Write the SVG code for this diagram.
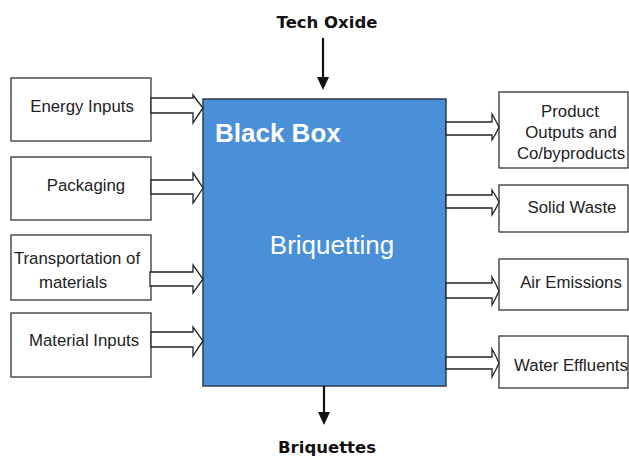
<svg xmlns="http://www.w3.org/2000/svg" width="629" height="458" viewBox="0 0 629 458">
  <defs>
    <style>
      .box { fill: #ffffff; stroke: #333333; stroke-width: 1.3; }
      .lbl { font-family: "Liberation Sans", Arial, sans-serif; font-size: 16.8px; fill: #222222; text-anchor: middle; }
      .ttl { font-family: "DejaVu Sans", Verdana, sans-serif; font-size: 16.5px; font-weight: bold; fill: #111111; text-anchor: middle; }
      .flow { fill: #ffffff; stroke: #222222; stroke-width: 1.3; stroke-linejoin: miter; }
      .line { stroke: #111111; stroke-width: 2.2; fill: none; }
      .head { fill: #111111; }
    </style>
  </defs>

  <!-- central process block -->
  <g id="blackbox">
    <rect x="203" y="99" width="243" height="287" fill="#4a90d9" stroke="#2e3b50" stroke-width="1.5"/>
    <text x="215" y="142" font-family="Liberation Sans, Arial, sans-serif" font-size="26" font-weight="bold" fill="#ffffff">Black Box</text>
    <text x="332" y="254" font-family="Liberation Sans, Arial, sans-serif" font-size="26" fill="#ffffff" text-anchor="middle">Briquetting</text>
  </g>

  <!-- inputs -->
  <g id="energy-inputs">
    <rect class="box" x="11" y="78" width="140" height="63"/>
    <text class="lbl" x="82" y="112">Energy Inputs</text>
  </g>
  <g id="packaging">
    <rect class="box" x="11" y="157" width="140" height="63"/>
    <text class="lbl" x="86" y="191">Packaging</text>
  </g>
  <g id="transportation">
    <rect class="box" x="11" y="235" width="140" height="65"/>
    <text class="lbl" x="77" y="264">Transportation of</text>
    <text class="lbl" x="73" y="288">materials</text>
  </g>
  <g id="material-inputs">
    <rect class="box" x="11" y="313" width="140" height="64"/>
    <text class="lbl" x="84" y="346">Material Inputs</text>
  </g>

  <!-- outputs -->
  <g id="product-outputs">
    <rect class="box" x="499" y="92" width="129" height="76"/>
    <text class="lbl" x="570" y="117">Product</text>
    <text class="lbl" x="571" y="138">Outputs and</text>
    <text class="lbl" x="571" y="159">Co/byproducts</text>
  </g>
  <g id="solid-waste">
    <rect class="box" x="499" y="185" width="129" height="47"/>
    <text class="lbl" x="572" y="213">Solid Waste</text>
  </g>
  <g id="air-emissions">
    <rect class="box" x="499" y="259" width="129" height="51"/>
    <text class="lbl" x="571" y="288">Air Emissions</text>
  </g>
  <g id="water-effluents">
    <rect class="box" x="499" y="336" width="129" height="52"/>
    <text class="lbl" x="571" y="371">Water Effluents</text>
  </g>

  <!-- top input and bottom output labels -->
  <g id="tech-oxide">
    <text class="ttl" x="327" y="28">Tech Oxide</text>
  </g>
  <g id="briquettes">
    <text class="ttl" x="327" y="453">Briquettes</text>
  </g>

  <!-- connectors -->
  <g id="connectors">
    <!-- hollow block arrows into the process -->
    <path class="flow" d="M151,98 H193 V95 Q198,102 203,108 Q198,115 193,123 V113 H151 Z"/>
    <path class="flow" d="M151,180 H193 V173 Q198,180 203,188 Q198,196 193,203 V194 H151 Z"/>
    <path class="flow" d="M150,272 H193 V265 Q198,272 203,279 Q198,286 193,293 V286 H150 Z"/>
    <path class="flow" d="M151,332 H193 V327 Q198,334 203,341 Q198,348 193,356 V347 H151 Z"/>
    <!-- hollow block arrows out of the process -->
    <path class="flow" d="M446,122 H492 V114 Q496,121 499,127 Q496,134 492,140 V135 H446 Z"/>
    <path class="flow" d="M446,195 H492 V190 Q496,196 499,202 Q496,209 492,215 V208 H446 Z"/>
    <path class="flow" d="M446,283 H492 V277 Q496,284 499,291 Q496,298 492,305 V298 H446 Z"/>
    <path class="flow" d="M446,357 H492 V349 Q496,356 499,363 Q496,370 492,377 V369 H446 Z"/>
    <!-- vertical feed and product arrows -->
    <line class="line" x1="323" y1="38" x2="323" y2="80"/>
    <polygon class="head" points="317,77 329,77 323,90"/>
    <line class="line" x1="324" y1="386" x2="324" y2="415"/>
    <polygon class="head" points="318,412 330,412 324,425"/>
  </g>
</svg>
